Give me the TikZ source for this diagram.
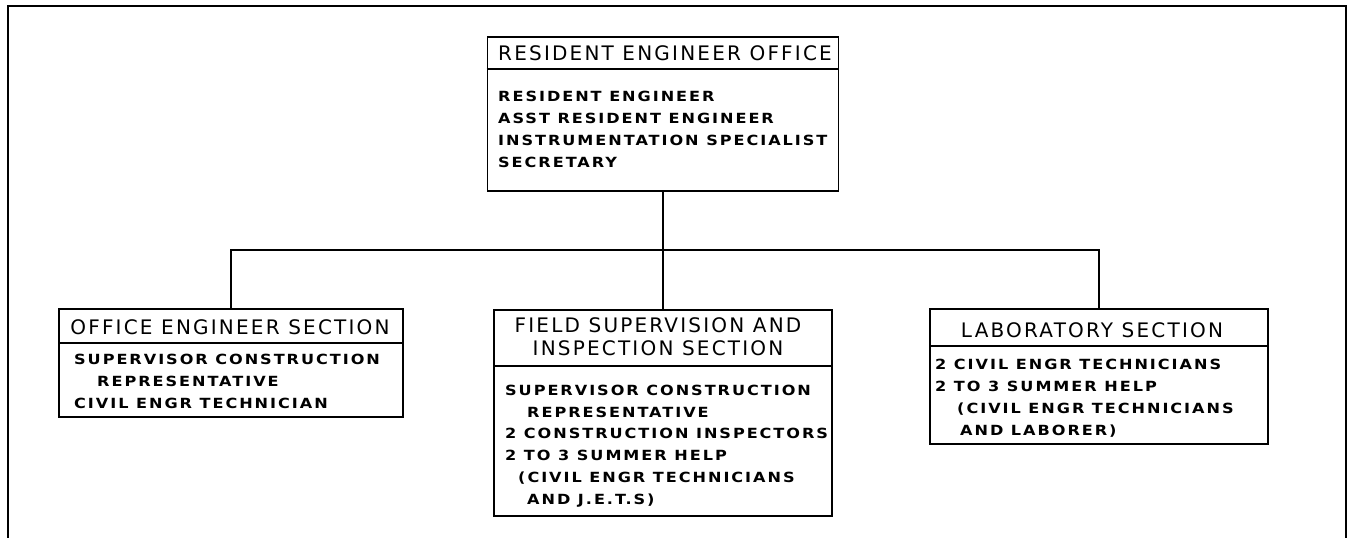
\documentclass[tikz,border=0pt]{standalone}
\usepackage{fontspec}
\newfontfamily\titlefont[LetterSpace=11]{DejaVu Sans}
\newfontfamily\bodyfont[LetterSpace=14,FakeStretch=1.15]{DejaVu Sans}
\begin{document}
\begin{tikzpicture}[x=1pt,y=-1pt,
  orgbox/.style={draw,line width=1.8pt,inner sep=0pt,rectangle},
  divider/.style={line width=1.6pt},
  conn/.style={line width=1.8pt},
  frame/.style={line width=2.8pt},
  titletext/.style={anchor=base,inner sep=0pt,align=center,
    font={\titlefont\fontsize{20}{23}\selectfont}},
  bodytext/.style={anchor=base west,inner sep=0pt,align=left,
    font={\bodyfont\bfseries\fontsize{14}{21.7}\selectfont}}]
\useasboundingbox (0,0) rectangle (1352,538);
% frame
\draw[frame] (8,538) -- (8,6) -- (1346,6) -- (1346,538);
% boxes
\node[orgbox,minimum width=351pt,minimum height=154pt] (top) at (663,114) {};
\node[orgbox,minimum width=344pt,minimum height=108pt] (left) at (231,363) {};
\node[orgbox,minimum width=338pt,minimum height=206pt] (mid) at (663,413) {};
\node[orgbox,minimum width=338pt,minimum height=135pt] (right) at (1099,376.5) {};
% dividers
\draw[divider] (top.west |- 0,69) -- (top.east |- 0,69);
\draw[divider] (left.west |- 0,343) -- (left.east |- 0,343);
\draw[divider] (mid.west |- 0,366) -- (mid.east |- 0,366);
\draw[divider] (right.west |- 0,346) -- (right.east |- 0,346);
% titles (base anchor = baseline of last line)
\node[titletext] (toptitle) at (665,60.5) {RESIDENT ENGINEER OFFICE};
\node[titletext] (lefttitle) at (230,334) {OFFICE ENGINEER SECTION};
\node[titletext] (midtitle) at (658,355) {FIELD SUPERVISION AND\\INSPECTION SECTION};
\node[titletext] (righttitle) at (1092,337) {LABORATORY SECTION};
% bodies (base anchor = baseline of last line)
\node[bodytext] (topbody) at (498,167) {RESIDENT ENGINEER\\ASST RESIDENT ENGINEER\\INSTRUMENTATION SPECIALIST\\SECRETARY};
\node[bodytext] (leftbody) at (74,408) {SUPERVISOR CONSTRUCTION\\\hspace*{23pt}REPRESENTATIVE\\CIVIL ENGR TECHNICIAN};
\node[bodytext] (midbody) at (505,504) {SUPERVISOR CONSTRUCTION\\\hspace*{22pt}REPRESENTATIVE\\2 CONSTRUCTION INSPECTORS\\2 TO 3 SUMMER HELP\\\hspace*{13pt}(CIVIL ENGR TECHNICIANS\\\hspace*{22pt}AND J.E.T.S)};
\node[bodytext] (rightbody) at (935,435) {2 CIVIL ENGR TECHNICIANS\\2 TO 3 SUMMER HELP\\\hspace*{22pt}(CIVIL ENGR TECHNICIANS\\\hspace*{25pt}AND LABORER)};
% connectors
\coordinate (bar) at (0,250);
\draw[conn] (top.south) -- (mid.north);
\draw[conn] (left.north) -- (left.north |- bar) -- (right.north |- bar) -- (right.north);
\end{tikzpicture}
\end{document}
